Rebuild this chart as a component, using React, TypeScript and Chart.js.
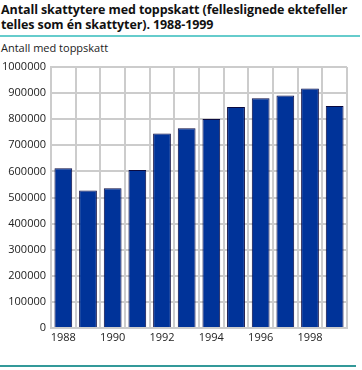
import React, { useEffect, useRef } from "react";
import { Chart, registerables } from "chart.js";

Chart.register(...registerables);

const years = ["1988", "1989", "1990", "1991", "1992", "1993", "1994", "1995", "1996", "1997", "1998", "1999"];
const antall = [612000, 527000, 535000, 605000, 745000, 765000, 801000, 847000, 880000, 891000, 918000, 851000];
const yTicks = [0, 100000, 200000, 300000, 400000, 500000, 600000, 700000, 800000, 900000, 1000000];

const FONT = "'Open Sans', 'DejaVu Sans', sans-serif";

export default function App() {
  const ref = useRef<HTMLCanvasElement | null>(null);
  useEffect(() => {
    if (!ref.current) return;
    const chart = new Chart(ref.current, {
      type: "bar",
      data: {
        labels: years,
        datasets: [
          {
            data: antall,
            backgroundColor: "#003399",
            borderColor: "#0a0a40",
            borderWidth: 1,
            categoryPercentage: 0.72,
            barPercentage: 1,
          },
        ],
      },
      options: {
        animation: false,
        responsive: false,
        maintainAspectRatio: false,
        layout: { padding: { top: 67, right: 15, bottom: 22, left: 0 } },
        plugins: { legend: { display: false }, tooltip: { enabled: false }, title: { display: false } },
        scales: {
          x: {
            grid: { color: "#cccccc", lineWidth: 2, drawTicks: false, offset: true },
            border: { display: true, color: "#cccccc", width: 2 },
            ticks: {
              autoSkip: false,
              maxRotation: 0,
              padding: 3,
              color: "#222222",
              font: { family: FONT, size: 11 },
              callback: (_v: any, i: number) => (i % 2 === 0 ? years[i] : ""),
            },
            afterFit: (s: any) => {
              s.height = 20;
            },
          },
          y: {
            min: 0,
            max: 1000000,
            afterBuildTicks: (s: any) => {
              s.ticks = yTicks.map((v) => ({ value: v }));
            },
            grid: { color: "#cccccc", lineWidth: 2, drawTicks: false },
            border: { display: true, color: "#cccccc", width: 2 },
            ticks: {
              padding: 5,
              color: "#222222",
              font: { family: FONT, size: 11 },
              callback: (v: any) => String(v),
            },
            afterFit: (s: any) => {
              s.width = 51;
            },
          },
        },
      },
    });
    return () => chart.destroy();
  }, []);

  return (
    <div style={{ position: "absolute", left: 0, top: 0, width: 362, height: 370, background: "#fff", fontFamily: FONT, color: "#111" }}>
      <div style={{ position: "absolute", left: 1, top: 2, width: 362, fontSize: 12.5, fontWeight: 700, lineHeight: "15px", whiteSpace: "nowrap", letterSpacing: "-0.1px" }}>
        Antall skattytere med toppskatt (felleslignede ektefeller
        <br />
        telles som én skattyter). 1988-1999
      </div>
      <div style={{ position: "absolute", left: 0, top: 35, width: 360, height: 2, background: "#66cccc" }} />
      <div style={{ position: "absolute", left: 1, top: 40, fontSize: 11, whiteSpace: "nowrap", color: "#222" }}>Antall med toppskatt</div>
      <canvas ref={ref} width={362} height={370} style={{ position: "absolute", left: 0, top: 0, width: 362, height: 370 }} />
      <div style={{ position: "absolute", left: 0, top: 365, width: 356, height: 2, background: "#339999" }} />
    </div>
  );
}
